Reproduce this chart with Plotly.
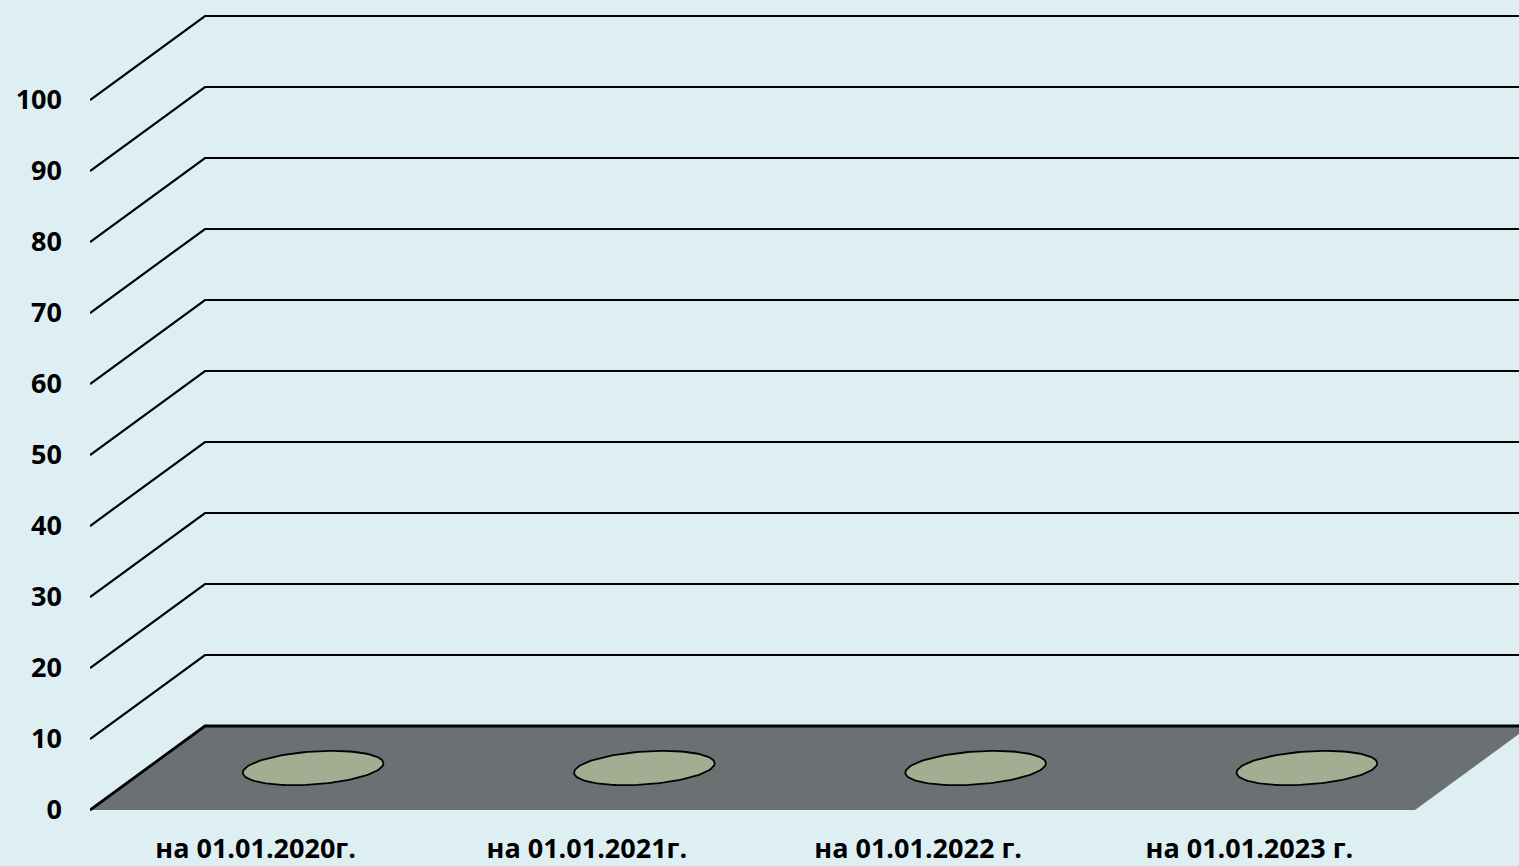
import numpy as np
import plotly.graph_objects as go

categories = ["на 01.01.2020г.", "на 01.01.2021г.", "на 01.01.2022 г.", "на 01.01.2023 г."]
values = [0, 0, 0, 0]
y_ticks = [0, 10, 20, 30, 40, 50, 60, 70, 80, 90, 100]

# layout geometry (pixels)
W, H = 1519, 866
ML, MR, MT, MB = 90, 0, 0, 46
PX_PER_CAT = 331.25
PX_PER_UNIT = 7.1
DEPTH_PX = (115, 84)

plot_w = W - ML - MR
plot_h = H - MT - MB
x_max = plot_w / PX_PER_CAT
y_min = -(plot_h - 810) / PX_PER_UNIT
y_max = y_min + plot_h / PX_PER_UNIT
ddx = DEPTH_PX[0] / PX_PER_CAT
ddy = DEPTH_PX[1] / PX_PER_UNIT
n = len(categories)

BG = "#deeff4"
FLOOR = "#6b7072"
TOP = "#a3ad91"
FONT = "Open Sans"

fig = go.Figure()

# floor
fig.add_trace(go.Scatter(
    x=[0, ddx, n + ddx, n, 0], y=[0, ddy, ddy, 0, 0],
    mode="lines", fill="toself", fillcolor=FLOOR,
    line=dict(width=0, color=FLOOR), hoverinfo="skip", showlegend=False))

# gridlines (side wall + back wall)
for v in y_ticks:
    fig.add_trace(go.Scatter(
        x=[0, ddx, x_max + 1], y=[v, v + ddy, v + ddy],
        mode="lines", line=dict(color="#000000", width=2.8 if v == 0 else 2.2),
        hoverinfo="skip", showlegend=False))

# cylinder tops (zero-height bars)
a_px, b_px, rot = 70.5, 16.5, np.deg2rad(4.0)
t = np.linspace(0, 2 * np.pi, 120)
ox = a_px * np.cos(t) * np.cos(rot) - b_px * np.sin(t) * np.sin(rot)
oy = a_px * np.cos(t) * np.sin(rot) + b_px * np.sin(t) * np.cos(rot)
for i, (c, v) in enumerate(zip(categories, values)):
    cx = i + 0.5 + ddx / 2
    cy = v + ddy / 2
    fig.add_trace(go.Scatter(
        x=cx + ox / PX_PER_CAT, y=cy + oy / PX_PER_UNIT,
        mode="lines", fill="toself", fillcolor=TOP,
        line=dict(color="#000000", width=1.8),
        name=c, hovertemplate=f"{c}: {v}<extra></extra>", showlegend=False))

fig.update_layout(
    width=W, height=H,
    margin=dict(l=ML, r=MR, t=MT, b=MB, autoexpand=False),
    paper_bgcolor=BG, plot_bgcolor=BG,
    font=dict(family=FONT, color="#000000"),
    xaxis=dict(range=[0, x_max], showgrid=False, zeroline=False, showline=False,
               automargin=False,
               tickmode="array", tickvals=[i + 0.5 for i in range(n)], ticktext=categories,
               tickfont=dict(family=FONT, size=27, color="#000000", weight="bold"),
               ticks="", ticklabelstandoff=10, fixedrange=True),
    yaxis=dict(range=[y_min, y_max], showgrid=False, zeroline=False, showline=False,
               automargin=False,
               tickmode="array", tickvals=y_ticks, ticktext=[str(v) for v in y_ticks],
               tickfont=dict(family=FONT, size=27, color="#000000", weight="bold"),
               ticks="", ticklabelstandoff=27, fixedrange=True),
)

fig.write_html("out.html", config={"displayModeBar": False},
               post_script="document.body.style.margin='0';document.body.style.overflow='hidden';")
